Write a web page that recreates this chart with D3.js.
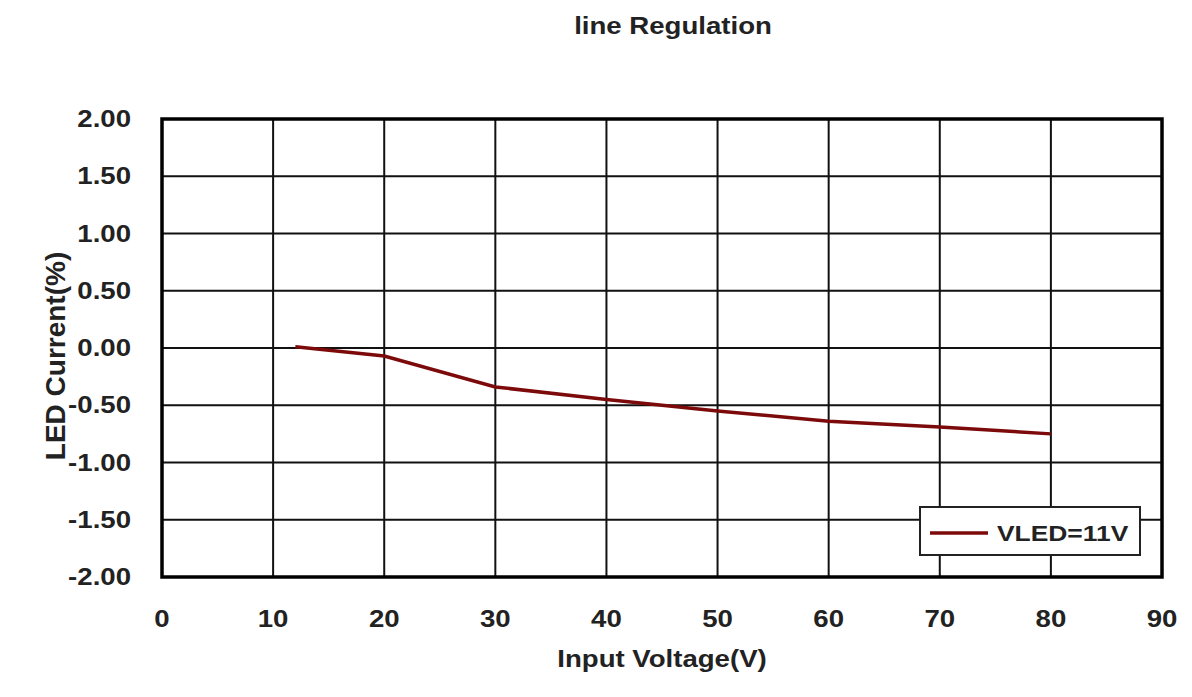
<!DOCTYPE html>
<meta charset="utf-8">
<style>
body { margin: 0; background: #fff; font-family: "Liberation Sans", Arial, sans-serif; }
text { font-weight: bold; fill: #222; }
</style>
<svg width="1192" height="697"></svg>
<script src="https://d3js.org/d3.v7.min.js"></script>
<script>

var voltage = [12, 20, 30, 40, 50, 60, 70, 80];
var current = [0.01, -0.07, -0.34, -0.45, -0.55, -0.64, -0.69, -0.75];
var xTicks = [0, 10, 20, 30, 40, 50, 60, 70, 80, 90];
var yTicks = [2, 1.5, 1, 0.5, 0, -0.5, -1, -1.5, -2];
var seriesName = "VLED=11V";

var svg = d3.select("svg"),
    margin = {top: 119, right: 30, bottom: 120, left: 162},
    width = +svg.attr("width"),
    height = +svg.attr("height");

// the original text looks stretched sideways
var STRETCH = 1.2;

var x = d3.scaleLinear().domain([0, 90]).range([margin.left, width - margin.right]);
var y = d3.scaleLinear().domain([-2, 2]).range([height - margin.bottom, margin.top]);

function label(g, tx, ty, anchor, size, str) {
  return g.append("text")
    .attr("transform", "translate(" + tx + "," + ty + ") scale(" + STRETCH + ",1)")
    .attr("text-anchor", anchor)
    .style("font-size", size + "px")
    .text(str);
}

// grid
svg.append("g")
  .selectAll("line")
  .data(xTicks)
  .enter().append("line")
    .attr("x1", x).attr("x2", x)
    .attr("y1", y(2)).attr("y2", y(-2))
    .attr("stroke", "#111").attr("stroke-width", 2);

svg.append("g")
  .selectAll("line")
  .data(yTicks)
  .enter().append("line")
    .attr("y1", y).attr("y2", y)
    .attr("x1", x(0)).attr("x2", x(90))
    .attr("stroke", "#111").attr("stroke-width", 2);

svg.append("rect")
  .attr("x", x(0)).attr("y", y(2))
  .attr("width", x(90) - x(0)).attr("height", y(-2) - y(2))
  .attr("fill", "none").attr("stroke", "#000").attr("stroke-width", 3.5);

// tick labels
var yl = svg.append("g");
yTicks.forEach(function(d) {
  label(yl, x(0) - 31, y(d) + 8, "end", 23, d.toFixed(2));
});

var xl = svg.append("g");
xTicks.forEach(function(d) {
  label(xl, x(d), y(-2) + 50, "middle", 23, d);
});

// line
var line = d3.line()
  .x(function(d, i) { return x(voltage[i]); })
  .y(function(d) { return y(d); });

svg.append("path")
  .datum(current)
  .attr("d", line)
  .attr("fill", "none")
  .attr("stroke", "#7d0a0a")
  .attr("stroke-width", 3.5);

// legend
var lg = svg.append("g").attr("transform", "translate(920,507)");
lg.append("rect")
  .attr("width", 220).attr("height", 48)
  .attr("fill", "#fff").attr("stroke", "#222").attr("stroke-width", 2);
lg.append("line")
  .attr("x1", 10).attr("x2", 68).attr("y1", 26).attr("y2", 26)
  .attr("stroke", "#7d0a0a").attr("stroke-width", 3.5);
label(lg, 77, 34, "start", 22, seriesName);

// titles
label(svg, 673, 34, "middle", 23, "line Regulation");
label(svg, 662, 667, "middle", 23, "Input Voltage(V)");

svg.append("text")
  .attr("transform", "translate(65," + 356 + ") rotate(-90)")
  .attr("text-anchor", "middle")
  .style("font-size", "28px")
  .text("LED Current(%)");

</script>
</html>
